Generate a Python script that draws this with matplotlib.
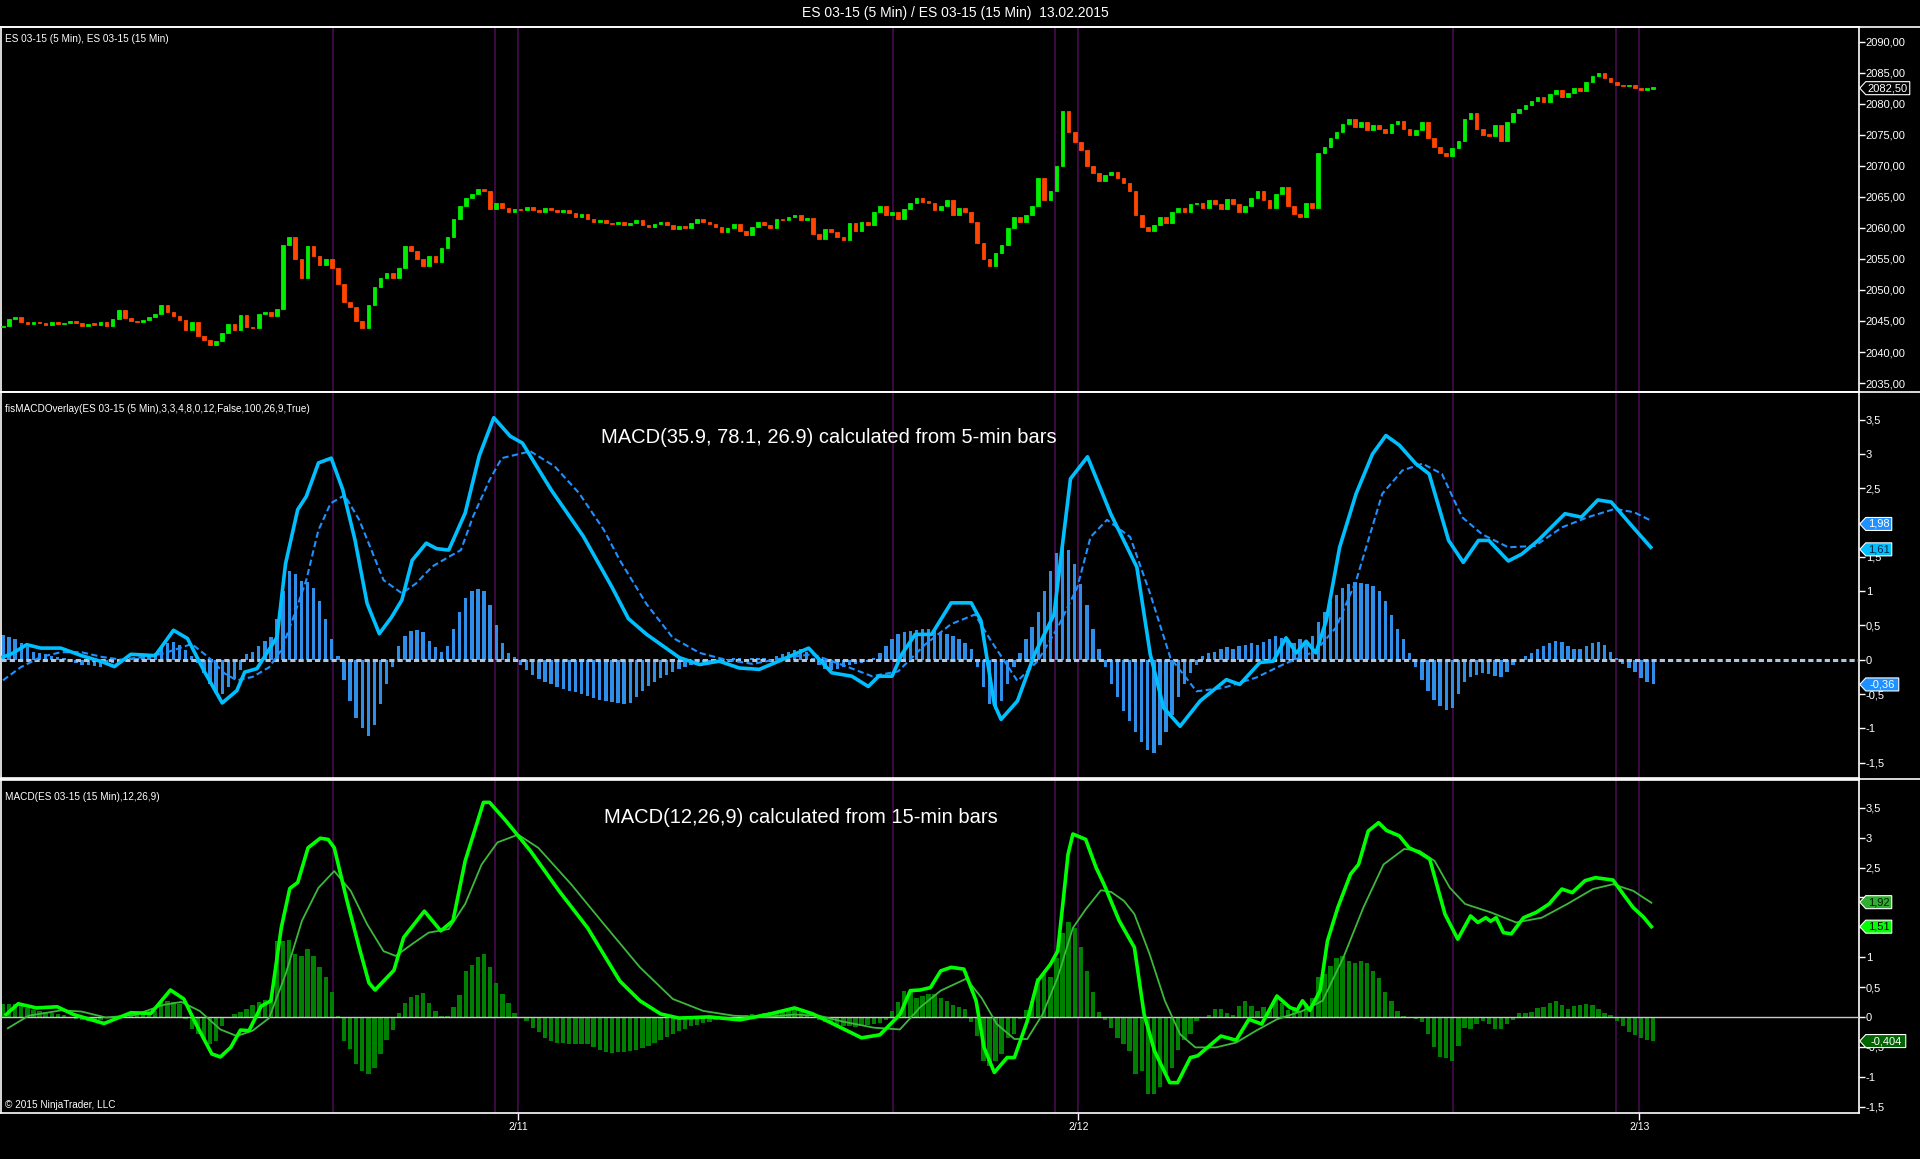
import numpy as np
import matplotlib
matplotlib.use("Agg")
import matplotlib.pyplot as plt
from matplotlib.lines import Line2D
from matplotlib.patches import Polygon
from matplotlib.ticker import FuncFormatter, MultipleLocator

plt.rcParams['font.family'] = ['Liberation Sans', 'DejaVu Sans']

# ---- data (x = 15-min bar index) ----
first_open = 2044.0
close = [
    2044.2, 2045.3, 2045.6, 2044.8, 2044.5, 2044.9, 2044.6, 2044.3, 2044.8, 2044.5,
    2044.7, 2045.0, 2044.6, 2044.2, 2044.5, 2044.4, 2044.9, 2044.2, 2045.3, 2046.8,
    2045.5, 2045.0, 2044.8, 2045.2, 2045.6, 2046.2, 2047.5, 2046.4, 2045.8, 2045.2,
    2043.5, 2044.8, 2042.6, 2042.0, 2041.2, 2041.8, 2043.0, 2044.5, 2043.6, 2046.0,
    2044.0, 2043.8, 2046.2, 2046.5, 2045.8, 2047.0, 2057.2, 2058.5, 2055.0, 2052.0,
    2057.0, 2055.5, 2054.0, 2055.0, 2053.5, 2051.0, 2048.0, 2047.2, 2045.0, 2043.8,
    2047.5, 2050.5, 2052.0, 2052.8, 2052.0, 2053.5, 2057.0, 2056.2, 2055.0, 2053.8,
    2055.5, 2054.5, 2056.8, 2058.5, 2061.5, 2063.5, 2064.8, 2065.5, 2066.2, 2066.0,
    2063.0, 2064.0, 2063.2, 2062.5, 2063.0, 2062.8, 2063.4, 2062.9, 2062.6, 2063.2,
    2062.8, 2062.6, 2062.9, 2062.4, 2061.8, 2062.2, 2061.5, 2061.0, 2061.3, 2060.8,
    2060.6, 2060.9, 2060.4, 2060.8, 2061.2, 2060.5, 2060.2, 2060.6, 2061.0, 2060.4,
    2059.8, 2060.3, 2060.0, 2060.8, 2061.4, 2061.0, 2060.6, 2060.2, 2059.4, 2060.0,
    2060.6, 2059.5, 2058.8, 2060.2, 2061.0, 2060.5, 2060.0, 2061.5, 2061.2, 2061.8,
    2062.0, 2061.3, 2061.6, 2059.0, 2058.2, 2059.8, 2059.4, 2058.6, 2058.0, 2060.8,
    2059.5, 2061.0, 2060.5, 2062.5, 2063.5, 2062.0, 2062.5, 2061.5, 2063.0, 2064.0,
    2064.8, 2064.2, 2064.0, 2062.8, 2063.5, 2064.5, 2062.0, 2063.2, 2062.5, 2061.0,
    2057.5, 2055.0, 2053.8, 2056.0, 2057.2, 2060.0, 2061.8, 2061.0, 2062.0, 2063.5,
    2068.0, 2064.5, 2066.0, 2070.0, 2078.8, 2075.5, 2073.8, 2072.5, 2070.0, 2068.8,
    2067.5, 2068.5, 2069.0, 2068.0, 2067.2, 2066.0, 2062.0, 2060.2, 2059.5, 2060.5,
    2061.8, 2060.8, 2062.5, 2063.2, 2062.5, 2063.8, 2064.0, 2063.2, 2064.5, 2063.8,
    2063.0, 2064.6, 2063.8, 2062.6, 2063.5, 2064.8, 2066.0, 2064.5, 2063.2, 2065.5,
    2066.5, 2063.5, 2062.2, 2061.8, 2064.0, 2063.2, 2072.0, 2073.0, 2074.5, 2075.5,
    2076.8, 2077.5, 2076.2, 2077.0, 2075.8, 2076.5, 2076.0, 2075.2, 2076.8, 2077.2,
    2076.0, 2075.0, 2075.8, 2077.0, 2074.5, 2073.0, 2072.0, 2071.5, 2072.8, 2074.0,
    2077.5, 2078.5, 2076.0, 2075.0, 2074.8, 2076.5, 2074.0, 2077.0, 2078.5, 2079.2,
    2079.8, 2080.5, 2081.0, 2080.2, 2081.5, 2082.2, 2081.0, 2081.8, 2082.5, 2082.0,
    2083.5, 2084.5, 2085.0, 2084.2, 2083.5, 2083.0, 2082.8, 2083.0, 2082.6, 2082.2,
    2082.4, 2082.5,
]

# MACD from 5-min bars (overlay)
m5_x = [0, 1.5, 3.9, 6.2, 9.5, 12.9, 16.3, 18.3, 21, 25, 28, 30.3, 33, 36, 38.4, 39.7,
        41.7, 45, 46.4, 48.4, 49.8, 51.8, 53.9, 55.8, 57.8, 59.8, 61.8, 63.8, 65.5, 67.2,
        69.5, 71.2, 73.2, 75.9, 78.2, 80.6, 83.3, 85.3, 90, 95.3, 100, 102.7, 105.7, 111.1,
        114.4, 117.6, 120.9, 124.2, 127.4, 132.3, 136.1, 139.4, 142.1, 143.8, 146, 147.6,
        149.8, 152.5, 155.7, 159, 160.6, 162.8, 163.9, 166.6, 169.4, 172.6, 175.3, 178.1,
        181.9, 186.2, 188.4, 190.6, 193.3, 196.6, 200.9, 203.1, 206.4, 208.6, 210.7, 212.4,
        214, 215.6, 217.3, 219.5, 222.2, 224.9, 227.1, 229.3, 232, 234.2, 237.4, 239.8,
        242.3, 244, 247.2, 249.4, 252.1, 256.5, 259.2, 261.9, 264.1, 267.9, 270.6]
m5_v = [0.04, 0.09, 0.22, 0.17, 0.17, 0.06, -0.03, -0.10, 0.08, 0.06, 0.43, 0.31, -0.16,
        -0.63, -0.45, -0.18, -0.13, 0.33, 1.40, 2.19, 2.38, 2.87, 2.94, 2.48, 1.75, 0.82,
        0.38, 0.62, 0.87, 1.45, 1.70, 1.62, 1.60, 2.14, 2.97, 3.53, 3.26, 3.16, 2.48, 1.80,
        1.06, 0.60, 0.37, 0.03, -0.07, -0.02, -0.12, -0.14, -0.02, 0.17, -0.19, -0.24,
        -0.39, -0.24, -0.24, 0.08, 0.37, 0.37, 0.83, 0.83, 0.57, -0.65, -0.87, -0.60, 0.08,
        0.66, 2.64, 2.96, 2.13, 1.35, 0.08, -0.70, -0.97, -0.60, -0.29, -0.36, -0.04, -0.02,
        0.32, 0.10, 0.27, 0.10, 0.57, 1.64, 2.42, 3.00, 3.27, 3.13, 2.86, 2.71, 1.74, 1.42,
        1.74, 1.74, 1.44, 1.54, 1.74, 2.13, 2.08, 2.33, 2.30, 1.91, 1.64]
s5_x = [0, 2.9, 6.2, 9.5, 12.9, 16.3, 19.6, 23, 26.3, 31, 33.7, 36.4, 38.4, 41, 43.7, 45.7,
        47.7, 49.8, 51.8, 53.8, 56.1, 58.5, 60.5, 62.5, 65.5, 67.8, 70.5, 73.2, 75.2, 77.2,
        79.9, 81.9, 86.6, 90.6, 94.6, 98.7, 101.3, 105.7, 110, 114.4, 118.7, 123.1, 128.5,
        132.9, 138.3, 142.7, 147, 151.4, 155.7, 159.6, 162.3, 166.6, 169.9, 173.2, 176.4,
        178.6, 181.3, 185.1, 188.4, 191.7, 196, 200.4, 205.8, 210.2, 215.6, 218.9, 222.2,
        226.5, 229.8, 233.1, 236.3, 239.6, 242.9, 247.2, 251.6, 256, 260.3, 264.7, 267.9, 270.6]
s5_v = [-0.30, -0.11, 0.04, 0.11, 0.11, 0.04, 0.0, 0.04, 0.09, 0.23, 0.04, -0.20, -0.30,
        -0.25, -0.11, 0.14, 0.62, 1.16, 1.89, 2.28, 2.40, 2.04, 1.60, 1.16, 0.97, 1.11, 1.36,
        1.50, 1.60, 2.09, 2.62, 2.94, 3.04, 2.82, 2.43, 1.89, 1.45, 0.81, 0.32, 0.10, 0.0,
        -0.06, 0.03, 0.08, -0.09, -0.24, -0.17, 0.22, 0.52, 0.66, 0.27, -0.31, -0.02, 0.47,
        1.05, 1.79, 2.04, 1.79, 0.96, 0.03, -0.46, -0.41, -0.26, -0.07, 0.13, 0.47, 1.15,
        2.42, 2.76, 2.86, 2.71, 2.08, 1.83, 1.64, 1.66, 1.93, 2.08, 2.20, 2.15, 2.03]
h5 = [
    0.36, 0.33, 0.30, 0.25, 0.18, 0.12, 0.10, 0.08, 0.06, 0.04,
    0.02, -0.02, -0.05, -0.07, -0.08, -0.09, -0.10, -0.08, -0.05, -0.03,
    0.0, 0.02, 0.03, 0.04, 0.06, 0.10, 0.18, 0.24, 0.26, 0.22,
    0.14, 0.05, -0.05, -0.20, -0.35, -0.48, -0.50, -0.40, -0.28, -0.15,
    0.08, 0.12, 0.20, 0.28, 0.33, 0.60, 1.00, 1.30, 1.25, 1.15,
    1.14, 1.05, 0.85, 0.60, 0.30, 0.05, -0.30, -0.60, -0.85, -1.00,
    -1.11, -0.95, -0.65, -0.35, -0.10, 0.20, 0.35, 0.42, 0.44, 0.40,
    0.28, 0.18, 0.12, 0.20, 0.45, 0.70, 0.90, 1.00, 1.03, 1.00,
    0.80, 0.50, 0.25, 0.10, 0.04, -0.08, -0.15, -0.22, -0.28, -0.32,
    -0.36, -0.40, -0.43, -0.45, -0.47, -0.50, -0.53, -0.56, -0.58, -0.60,
    -0.62, -0.63, -0.64, -0.63, -0.55, -0.45, -0.38, -0.32, -0.26, -0.22,
    -0.18, -0.14, -0.10, -0.07, -0.05, -0.03, -0.02, -0.01, 0.0, 0.01,
    0.02, 0.02, 0.01, 0.02, 0.03, 0.02, 0.01, 0.05, 0.08, 0.12,
    0.14, 0.15, 0.12, 0.02, -0.08, -0.14, -0.15, -0.13, -0.10, -0.08,
    -0.06, -0.05, -0.03, 0.02, 0.10, 0.20, 0.30, 0.38, 0.40, 0.42,
    0.44, 0.45, 0.45, 0.42, 0.40, 0.38, 0.35, 0.30, 0.25, 0.15,
    -0.10, -0.40, -0.65, -0.72, -0.60, -0.35, -0.10, 0.10, 0.30, 0.48,
    0.70, 1.00, 1.30, 1.55, 1.66, 1.60, 1.40, 1.10, 0.80, 0.45,
    0.15, -0.10, -0.35, -0.55, -0.75, -0.90, -1.05, -1.20, -1.32, -1.36,
    -1.25, -1.05, -0.80, -0.55, -0.35, -0.20, -0.08, 0.05, 0.10, 0.12,
    0.15, 0.18, 0.16, 0.20, 0.22, 0.24, 0.22, 0.26, 0.30, 0.34,
    0.32, 0.28, 0.25, 0.30, 0.28, 0.35, 0.55, 0.70, 0.85, 0.95,
    1.05, 1.10, 1.13, 1.12, 1.10, 1.08, 1.00, 0.85, 0.65, 0.45,
    0.30, 0.10, -0.10, -0.30, -0.45, -0.58, -0.68, -0.73, -0.70, -0.50,
    -0.32, -0.25, -0.22, -0.20, -0.21, -0.23, -0.25, -0.18, -0.08, 0.0,
    0.05, 0.10, 0.15, 0.20, 0.25, 0.27, 0.26, 0.20, 0.15, 0.16,
    0.20, 0.24, 0.26, 0.22, 0.12, 0.02, -0.06, -0.12, -0.18, -0.26,
    -0.32, -0.36,
]

# MACD(12,26,9) from 15-min bars
m15_x = [0.5, 2.5, 5.5, 8.9, 11.6, 16.6, 21, 24.3, 27.5, 29.7, 31.7, 34.3, 35.7, 37.4, 39,
         40.4, 42.4, 44, 45.7, 47.1, 48.4, 50.1, 52.1, 53.4, 54.4, 56.5, 58.5, 60.1, 61.1,
         64.2, 65.8, 69.2, 71.9, 73.9, 75.9, 78.9, 79.9, 82.6, 84.6, 86.6, 91.3, 96, 101.3,
         104.6, 108, 111, 116, 121, 126, 130, 133, 137, 141, 144, 147.3, 149, 150.6, 152.3,
         154, 155.7, 157.8, 159.8, 161.1, 162.8, 164.9, 166.1, 168.2, 169.9, 172, 173.2,
         174.1, 174.9, 175.7, 177.8, 179.5, 180.8, 183.3, 185.8, 187.4, 189.1, 191.6, 192.9,
         195, 196.2, 200, 202.5, 204.6, 206.7, 209.2, 211.3, 212.5, 213.4, 214.6, 216.3,
         217.5, 219.2, 221.3, 222.6, 224.2, 225.9, 227.2, 229.3, 230.9, 232.6, 234.3, 236.8,
         238.9, 241, 242.2, 243.5, 244.3, 245.2, 246.4, 247.7, 249.7, 251.8, 253.9, 256,
         257.7, 259.8, 261.5, 264.4, 266.1, 267.7, 269.4, 270.7]
m15_v = [0.04, 0.22, 0.15, 0.17, 0.04, -0.11, 0.07, 0.06, 0.45, 0.30, -0.12, -0.62, -0.67,
         -0.51, -0.22, -0.23, 0.18, 0.27, 1.49, 2.15, 2.25, 2.83, 2.99, 2.97, 2.83, 1.94,
         1.16, 0.57, 0.45, 0.78, 1.33, 1.77, 1.44, 1.61, 2.61, 3.59, 3.59, 3.28, 3.03, 2.78,
         2.11, 1.49, 0.60, 0.27, 0.05, -0.02, 0.0, -0.05, 0.05, 0.15, 0.05, -0.15, -0.35,
         -0.30, 0.04, 0.44, 0.45, 0.49, 0.77, 0.83, 0.80, 0.27, -0.51, -0.93, -0.68, -0.68,
         -0.07, 0.60, 0.88, 1.10, 1.94, 2.72, 3.06, 2.97, 2.50, 2.22, 1.61, 1.16, 0.04, -0.57,
         -1.10, -1.10, -0.68, -0.65, -0.32, -0.39, -0.04, -0.12, 0.35, 0.16, 0.11, 0.27,
         0.11, 0.44, 1.27, 1.83, 2.39, 2.55, 3.11, 3.25, 3.12, 3.03, 2.83, 2.75, 2.64, 1.72,
         1.30, 1.69, 1.58, 1.66, 1.60, 1.66, 1.41, 1.39, 1.66, 1.75, 1.89, 2.14, 2.08, 2.28,
         2.33, 2.29, 2.05, 1.83, 1.67, 1.51]
s15_x = [0.8, 4.2, 9.6, 12.9, 16.9, 21.6, 26.3, 29.3, 32.3, 35.7, 38.4, 41, 43.7, 46.4, 49.1,
         51.8, 54.4, 57.1, 59.8, 62.5, 64.5, 67.2, 69.9, 73.2, 75.9, 78.6, 81.2, 84.6, 87.9,
         93.3, 98.7, 104.6, 110, 115, 120, 125, 130, 134, 138, 143, 147.3, 150.6, 154, 158.2,
         160.7, 163.2, 166.1, 168.2, 170.7, 173.2, 175.7, 177.8, 180.3, 182, 184.1, 185.8,
         188.3, 190.8, 193.3, 195.8, 199.2, 202.5, 205.8, 209.2, 213.4, 216.7, 220.1, 223.4,
         226.7, 230.1, 232.6, 235.1, 237.6, 240.1, 244.3, 248.5, 252.7, 256.9, 261.1, 264.4,
         267.7, 270.7]
s15_v = [-0.19, 0.02, 0.11, 0.09, -0.01, 0.03, 0.20, 0.25, 0.10, -0.21, -0.32, -0.23, -0.02,
         0.71, 1.61, 2.16, 2.44, 2.11, 1.55, 1.10, 1.02, 1.22, 1.41, 1.47, 1.89, 2.55, 2.92,
         3.05, 2.83, 2.22, 1.55, 0.83, 0.30, 0.10, 0.02, 0.0, 0.04, 0.02, -0.08, -0.18, -0.21,
         0.16, 0.44, 0.64, 0.32, -0.12, -0.37, -0.37, 0.04, 0.66, 1.49, 1.80, 2.12, 2.09,
         1.94, 1.72, 1.05, 0.27, -0.29, -0.51, -0.51, -0.43, -0.23, -0.04, 0.10, 0.27, 0.99,
         1.83, 2.55, 2.81, 2.78, 2.61, 2.16, 1.89, 1.75, 1.58, 1.66, 1.89, 2.14, 2.22, 2.11, 1.91]
h15 = [
    0.22, 0.22, 0.22, 0.20, 0.15, 0.12, 0.10, 0.08, 0.06, 0.05,
    0.03, -0.01, -0.03, -0.05, -0.07, -0.08, -0.06, -0.02, 0.0, 0.01,
    0.02, 0.01, 0.03, 0.05, 0.08, 0.10, 0.25, 0.27, 0.25, 0.21,
    -0.04, -0.20, -0.28, -0.38, -0.45, -0.40, -0.15, 0.0, 0.05, 0.08,
    0.14, 0.20, 0.25, 0.28, 0.30, 1.27, 1.27, 1.28, 1.05, 1.02,
    1.13, 1.02, 0.84, 0.66, 0.42, 0.02, -0.40, -0.54, -0.78, -0.90,
    -0.96, -0.85, -0.62, -0.39, -0.22, 0.07, 0.24, 0.33, 0.36, 0.40,
    0.24, 0.10, 0.02, 0.02, 0.16, 0.37, 0.76, 0.87, 1.00, 1.05,
    0.84, 0.57, 0.39, 0.23, 0.06, 0.0, -0.07, -0.18, -0.26, -0.35,
    -0.40, -0.43, -0.44, -0.45, -0.45, -0.46, -0.46, -0.50, -0.55, -0.58,
    -0.60, -0.59, -0.58, -0.57, -0.55, -0.52, -0.48, -0.44, -0.38, -0.33,
    -0.28, -0.24, -0.20, -0.16, -0.13, -0.10, -0.08, -0.06, -0.04, -0.03,
    -0.02, 0.01, 0.03, 0.05, 0.04, 0.06, 0.08, 0.07, 0.09, 0.10,
    0.11, 0.08, 0.04, -0.02, -0.06, -0.09, -0.12, -0.14, -0.15, -0.16,
    -0.17, -0.15, -0.14, -0.12, -0.10, -0.05, 0.10, 0.25, 0.44, 0.41,
    0.32, 0.35, 0.38, 0.38, 0.32, 0.27, 0.20, 0.17, 0.13, -0.09,
    -0.32, -0.74, -0.82, -0.74, -0.62, -0.35, -0.29, -0.04, 0.11, 0.27,
    0.65, 0.71, 0.67, 0.99, 1.41, 1.58, 1.49, 1.17, 0.76, 0.42,
    0.09, -0.05, -0.18, -0.35, -0.46, -0.57, -0.96, -0.90, -1.29, -1.29,
    -1.17, -0.96, -0.85, -0.56, -0.39, -0.29, -0.07, -0.02, 0.04, 0.14,
    0.14, 0.06, 0.04, 0.18, 0.27, 0.18, 0.10, 0.16, 0.10, 0.30,
    0.24, 0.11, 0.16, 0.10, 0.21, 0.32, 0.66, 0.71, 0.85, 0.99,
    1.02, 0.94, 0.91, 0.93, 0.91, 0.77, 0.65, 0.41, 0.27, 0.10,
    0.02, -0.02, -0.04, -0.09, -0.29, -0.51, -0.67, -0.68, -0.73, -0.49,
    -0.18, -0.21, -0.12, -0.07, -0.12, -0.21, -0.21, -0.12, -0.06, 0.06,
    0.07, 0.09, 0.15, 0.16, 0.24, 0.27, 0.20, 0.13, 0.18, 0.20,
    0.22, 0.20, 0.13, 0.07, 0.04, -0.07, -0.15, -0.25, -0.30, -0.35,
    -0.39, -0.40,
]

session_lines = [54.2, 80.8, 84.6, 146.2, 172.8, 176.6, 238.2, 264.9, 268.7]
date_ticks = [84.6, 176.6, 268.7]
date_labels = ["2/11", "2/12", "2/13"]
macd_ticks = [-1.5, -1, -0.5, 0, 0.5, 1, 1.5, 2, 2.5, 3, 3.5]

# ---- styling ----
BG = "black"
UP, DOWN, DOJI = "#00ee00", "#ff4500", "white"
PURPLE = "#3c0a42"

fig = plt.figure(figsize=(19.2, 11.59), dpi=100, facecolor=BG)
L, W = 0.0006, 0.9675
ax1 = fig.add_axes([L, 0.6621, W, 0.3147])
ax2 = fig.add_axes([L, 0.3284, W, 0.3337])
ax3 = fig.add_axes([L, 0.0401, W, 0.2872])


def macd_label(v, p):
    # the "2" label sits under the value flags in the original, so it is left blank
    if abs(v - 2) < 1e-9:
        return ""
    return f"{v:g}".replace(".", ",")


comma = FuncFormatter(macd_label)
price_fmt = FuncFormatter(lambda v, p: f"{v:.2f}".replace(".", ","))

for ax in (ax1, ax2, ax3):
    ax.set_facecolor(BG)
    ax.set_xlim(-0.3, 304.75)
    for s in ax.spines.values():
        s.set_color("white")
        s.set_linewidth(1.2)
    ax.yaxis.tick_right()
    ax.tick_params(axis="y", direction="out", length=4, width=1, colors="white",
                   labelsize=8, pad=1)
    ax.tick_params(axis="x", bottom=False, labelbottom=False)
    for x in session_lines:
        ax.axvline(x, color=PURPLE, lw=1.4, zorder=1)

# ---- price panel ----
close = np.array(close)
opens = np.r_[first_open, close[:-1]]
idx = np.arange(len(close))
cols = np.where(close > opens, UP, np.where(close < opens, DOWN, DOJI))
body_lo = np.minimum(opens, close)
body_h = np.maximum(np.abs(close - opens), 0.25)
ax1.bar(idx, body_h, bottom=body_lo, width=0.6, color=cols, edgecolor=cols,
        linewidth=0.6, zorder=3)
ax1.set_ylim(2033.62, 2092.37)
ax1.yaxis.set_major_locator(MultipleLocator(5))
ax1.yaxis.set_major_formatter(price_fmt)
ax1.text(0.002, 0.966, "ES 03-15 (5 Min), ES 03-15 (15 Min)", transform=ax1.transAxes,
         color="white", fontsize=7.2, va="center", ha="left")

# ---- 5-min MACD overlay panel ----
ax2.bar(np.arange(len(h5)), h5, width=0.55, color="#2f8fe8", zorder=2)
ax2.axhline(0, color="#b0c4de", lw=2.2, ls=(0, (1.7, 1.0)), zorder=3)
ax2.plot(s5_x, s5_v, color="#1e90ff", lw=1.5, ls=(0, (3, 1.6)), zorder=4)
ax2.plot(m5_x, m5_v, color="#00bfff", lw=2.6, zorder=5, solid_joinstyle="round")
ax2.set_ylim(-1.73, 3.91)
ax2.set_yticks(macd_ticks)
ax2.yaxis.set_major_formatter(comma)
ax2.text(0.002, 0.9556, "fisMACDOverlay(ES 03-15 (5 Min),3,3,4,8,0,12,False,100,26,9,True)",
         transform=ax2.transAxes, color="white", fontsize=7.2, va="center", ha="left")
ax2.text(0.4456, 0.8825, "MACD(35.9, 78.1, 26.9) calculated from 5-min bars",
         transform=ax2.transAxes, color="white", fontsize=14.5, va="center", ha="center")

# ---- 15-min MACD panel ----
ax3.bar(np.arange(len(h15)), h15, width=0.72, color="#008000", zorder=2)
ax3.axhline(0, color="#c8c8c8", lw=1.0, zorder=3)
ax3.plot(s15_x, s15_v, color="#3cb83c", lw=1.3, zorder=4)
ax3.plot(m15_x, m15_v, color="#00ff00", lw=2.6, zorder=5, solid_joinstyle="round")
ax3.set_ylim(-1.60, 3.97)
ax3.set_yticks(macd_ticks)
ax3.yaxis.set_major_formatter(comma)
ax3.set_xticks(date_ticks)
ax3.set_xticklabels(date_labels)
ax3.tick_params(axis="x", bottom=True, labelbottom=True, direction="out", length=5,
                width=1, colors="white", labelsize=7.5, pad=2)
ax3.text(0.002, 0.9485, "MACD(ES 03-15 (15 Min),12,26,9)", transform=ax3.transAxes,
         color="white", fontsize=7.2, va="center", ha="left")
ax3.text(0.4305, 0.886, "MACD(12,26,9) calculated from 15-min bars",
         transform=ax3.transAxes, color="white", fontsize=14.5, va="center", ha="center")
ax3.text(0.002, 0.022, "\u00a9 2015 NinjaTrader, LLC", transform=ax3.transAxes,
         color="white", fontsize=7.2, va="center", ha="left")


# ---- value flags on the right axis ----
def flag(ax, y, text, fc, tc, w_px):
    fw = fig.get_figwidth() * fig.dpi
    fh = fig.get_figheight() * fig.dpi
    pos = ax.get_position()
    px = 1.0 / (pos.width * fw)
    y0, y1 = ax.get_ylim()
    h = 6.5 * (y1 - y0) / (pos.height * fh)
    xt, xb, xe = 1 + 1 * px, 1 + 7 * px, 1 + (7 + w_px) * px
    pts = [(xt, y), (xb, y + h), (xe, y + h), (xe, y - h), (xb, y - h)]
    tr = ax.get_yaxis_transform()
    ax.add_patch(Polygon(pts, closed=True, fc=fc, ec="white", lw=0.8,
                         transform=tr, clip_on=False, zorder=10))
    ax.text((xb + xe) / 2, y, text, transform=tr, ha="center", va="center",
            fontsize=8, color=tc, clip_on=False, zorder=11)


flag(ax1, 2082.5, "2082,50", "black", "white", 44)
flag(ax2, 1.98, "1,98", "#1e90ff", "white", 26)
flag(ax2, 1.61, "1,61", "#00bfff", "#002040", 26)
flag(ax2, -0.36, "-0,36", "#1e90ff", "white", 33)
flag(ax3, 1.92, "1,92", "#2fae2f", "#002000", 26)
flag(ax3, 1.51, "1,51", "#00ff00", "black", 26)
flag(ax3, -0.404, "-0,404", "#006400", "white", 40)

# separators spanning the full width
for fy in (0.9768, 0.6616, 0.3279):
    fig.add_artist(Line2D([0, 1], [fy, fy], transform=fig.transFigure,
                          color="white", lw=1.2))

fig.text(0.4974, 0.9884, "ES 03-15 (5 Min) / ES 03-15 (15 Min)  13.02.2015",
         color="white", fontsize=10, ha="center", va="center")

fig.savefig("out.png", dpi=100, facecolor=BG)
